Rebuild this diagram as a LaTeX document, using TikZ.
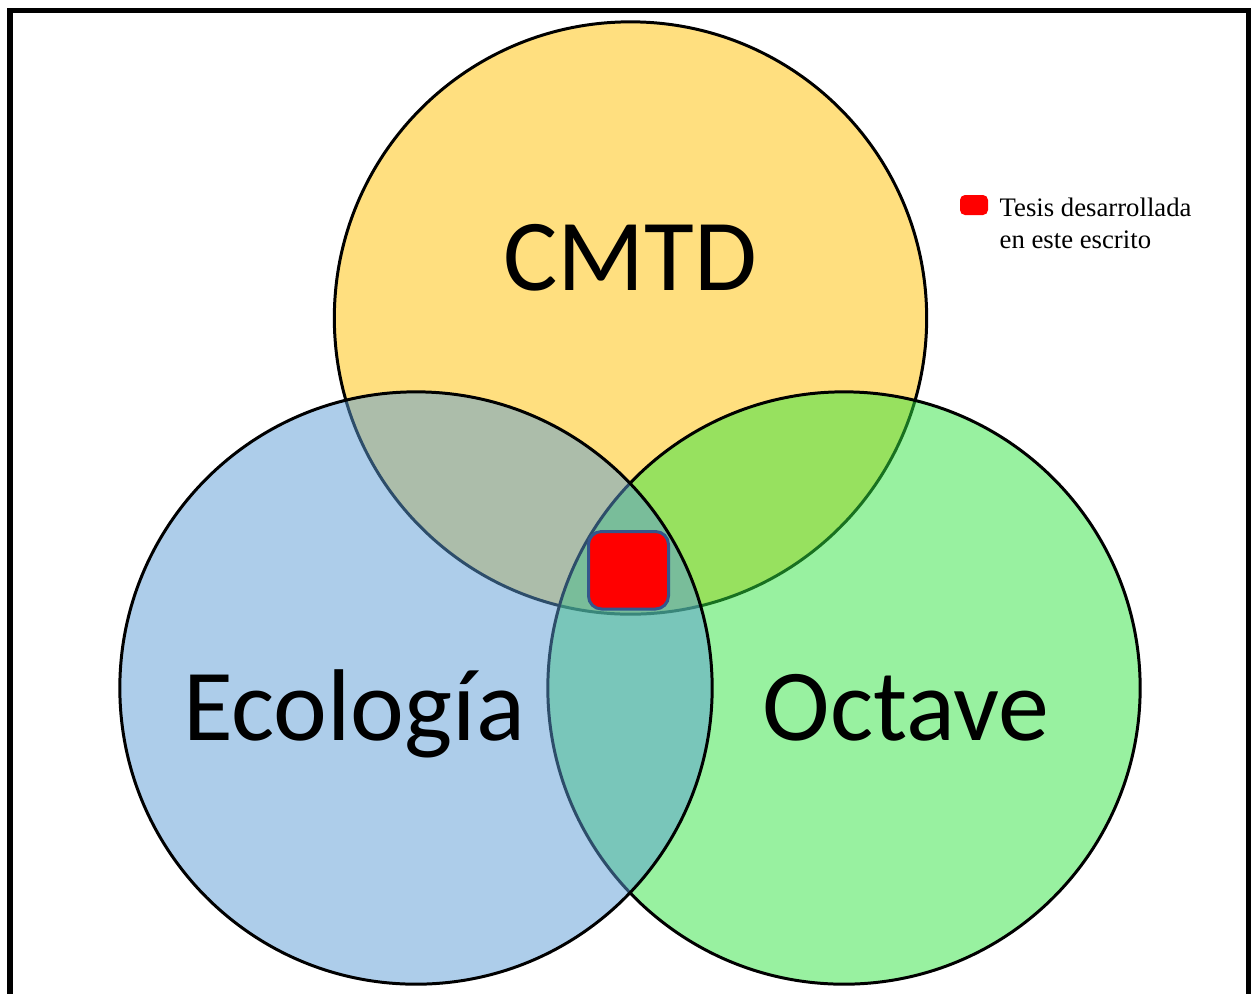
\documentclass[tikz,border=0pt]{standalone}
\usepackage{fontspec}
\newfontfamily\calibri{Carlito}
\newfontfamily\timesf{Liberation Serif}
\definecolor{cyellow}{RGB}{255,192,0}
\definecolor{cgreen}{RGB}{49,227,65}
\definecolor{cblue}{RGB}{91,155,213}
\definecolor{cborder}{RGB}{52,86,140}
\begin{document}
\begin{tikzpicture}[x=0.01cm,y=-0.01cm,
  venn/.style={draw=black,line width=0.85pt,fill opacity=0.5},
  biglabel/.style={anchor=base,inner sep=0pt,font=\calibri\fontsize{29}{34}\selectfont},
  legendtext/.style={anchor=base west,inner sep=0pt,font=\timesf\fontsize{7.6}{9}\selectfont}]
\useasboundingbox (0,0) rectangle (1251,993);
\clip (0,0) rectangle (1251,993);
\draw[line width=1.6pt] (10,1100) -- (10,10.5) -- (1249,10.5) -- (1249,1100);
% circles
\draw[venn,fill=cyellow] (630.5,318) circle[radius=2.96cm];
\draw[venn,fill=cgreen] (844,688) circle[radius=2.96cm];
\draw[venn,fill=cblue] (416,688) circle[radius=2.96cm];
% labels
\node[biglabel] (cmtd) at (630,290) {CMTD};
\node[biglabel] (eco) at (354,740) {Ecología};
\node[biglabel] (oct) at (906,740) {Octave};
% center square
\draw[fill=red,draw=cborder,line width=0.85pt,rounded corners=0.13cm] (588.5,531.5) rectangle (668.5,609);
% legend
\fill[red,rounded corners=0.05cm] (960,195) rectangle (988,215);
\node[legendtext] (l1) at (999,216) {Tesis desarrollada};
\node[legendtext] (l2) at (999,248) {en este escrito};
\end{tikzpicture}
\end{document}
